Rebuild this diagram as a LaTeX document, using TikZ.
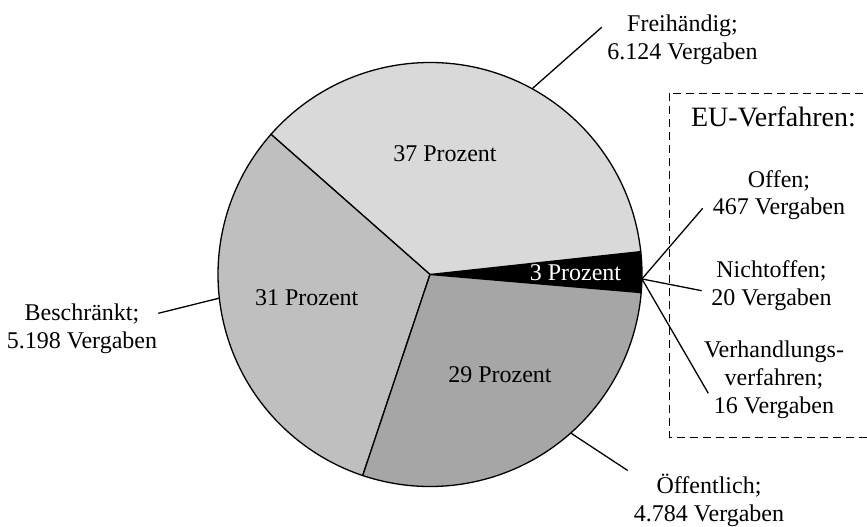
\documentclass[tikz,border=0pt]{standalone}
\usepackage{fontspec}
\setmainfont{Liberation Serif}
\definecolor{freigray}{HTML}{D9D9D9}
\definecolor{beschgray}{HTML}{BFBFBF}
\definecolor{oeffgray}{HTML}{A6A6A6}
\tikzset{
    slice/.style={draw=black,line width=0.65pt},
    leader/.style={line width=0.65pt},
    lbl/.style={align=center,inner sep=0pt,font=\fontsize{12}{13.8}\selectfont},
    pct/.style={inner sep=0pt,font=\fontsize{12}{13.8}\selectfont}
}
\begin{document}
\begin{tikzpicture}[x=0.5pt,y=0.5pt]
    \clip (-430,-251.5) rectangle (437,274.5);
    \coordinate (O) at (0,0);

    \filldraw[slice,fill=black] (O) -- (-4.9:212) arc[start angle=-4.9,end angle=6.2,radius=212] -- cycle;
    \filldraw[slice,fill=freigray] (O) -- (6.2:212) arc[start angle=6.2,end angle=138.6,radius=212] -- cycle;
    \filldraw[slice,fill=beschgray] (O) -- (138.6:212) arc[start angle=138.6,end angle=251.5,radius=212] -- cycle;
    \filldraw[slice,fill=oeffgray] (O) -- (251.5:212) arc[start angle=251.5,end angle=355.1,radius=212] -- cycle;

    \node[pct] (p37) at (15,121.2) {37 Prozent};
    \node[pct] (p31) at (-123.3,-23.2) {31 Prozent};
    \node[pct] (p29) at (70,-99.8) {29 Prozent};
    \node[pct,text=white] (p3) at (145.5,2.2) {3 Prozent};

    \coordinate (frei-a) at (61.2:212);
    \coordinate (frei-b) at (171.7,247.2);
    \coordinate (besch-a) at (186.4:212);
    \coordinate (besch-b) at (-271.7,-38.8);
    \coordinate (oeff-a) at (-48.4:212);
    \coordinate (oeff-b) at (197.7,-196);
    \coordinate (eu-a) at (-1.2:212);
    \coordinate (offen-b) at (272.7,66.2);
    \coordinate (nicht-b) at (271.7,-16.2);
    \coordinate (verh-b) at (278.3,-118.8);

    \draw[leader] (frei-a) -- (frei-b);
    \draw[leader] (besch-a) -- (besch-b);
    \draw[leader] (oeff-a) -- (oeff-b);
    \draw[leader] (eu-a) -- (offen-b);
    \draw[leader] (eu-a) -- (nicht-b);
    \draw[leader] (eu-a) -- (verh-b);

    \node[lbl] (frei) at (252.5,234.6) {Freihändig;\\6.124 Vergaben};
    \node[lbl] (besch) at (-348,-54.4) {Beschränkt;\\5.198 Vergaben};
    \node[lbl] (oeff) at (279,-226.1) {Öffentlich;\\4.784 Vergaben};

    \draw[line width=0.7pt,dash pattern=on 4pt off 2.5pt] (239.5,181.2) rectangle (460,-162.8);
    \node[inner sep=0pt,anchor=base,font=\fontsize{14}{16}\selectfont] (eu) at (343.5,147.8) {EU-Verfahren:};
    \node[lbl] (offen) at (349,79.25) {Offen;\\467 Vergaben};
    \node[lbl] (nicht) at (341.5,-11.05) {Nichtoffen;\\20 Vergaben};
    \node[lbl] (verh) at (344,-105.2) {Verhandlungs-\\verfahren;\\16 Vergaben};
\end{tikzpicture}
\end{document}
